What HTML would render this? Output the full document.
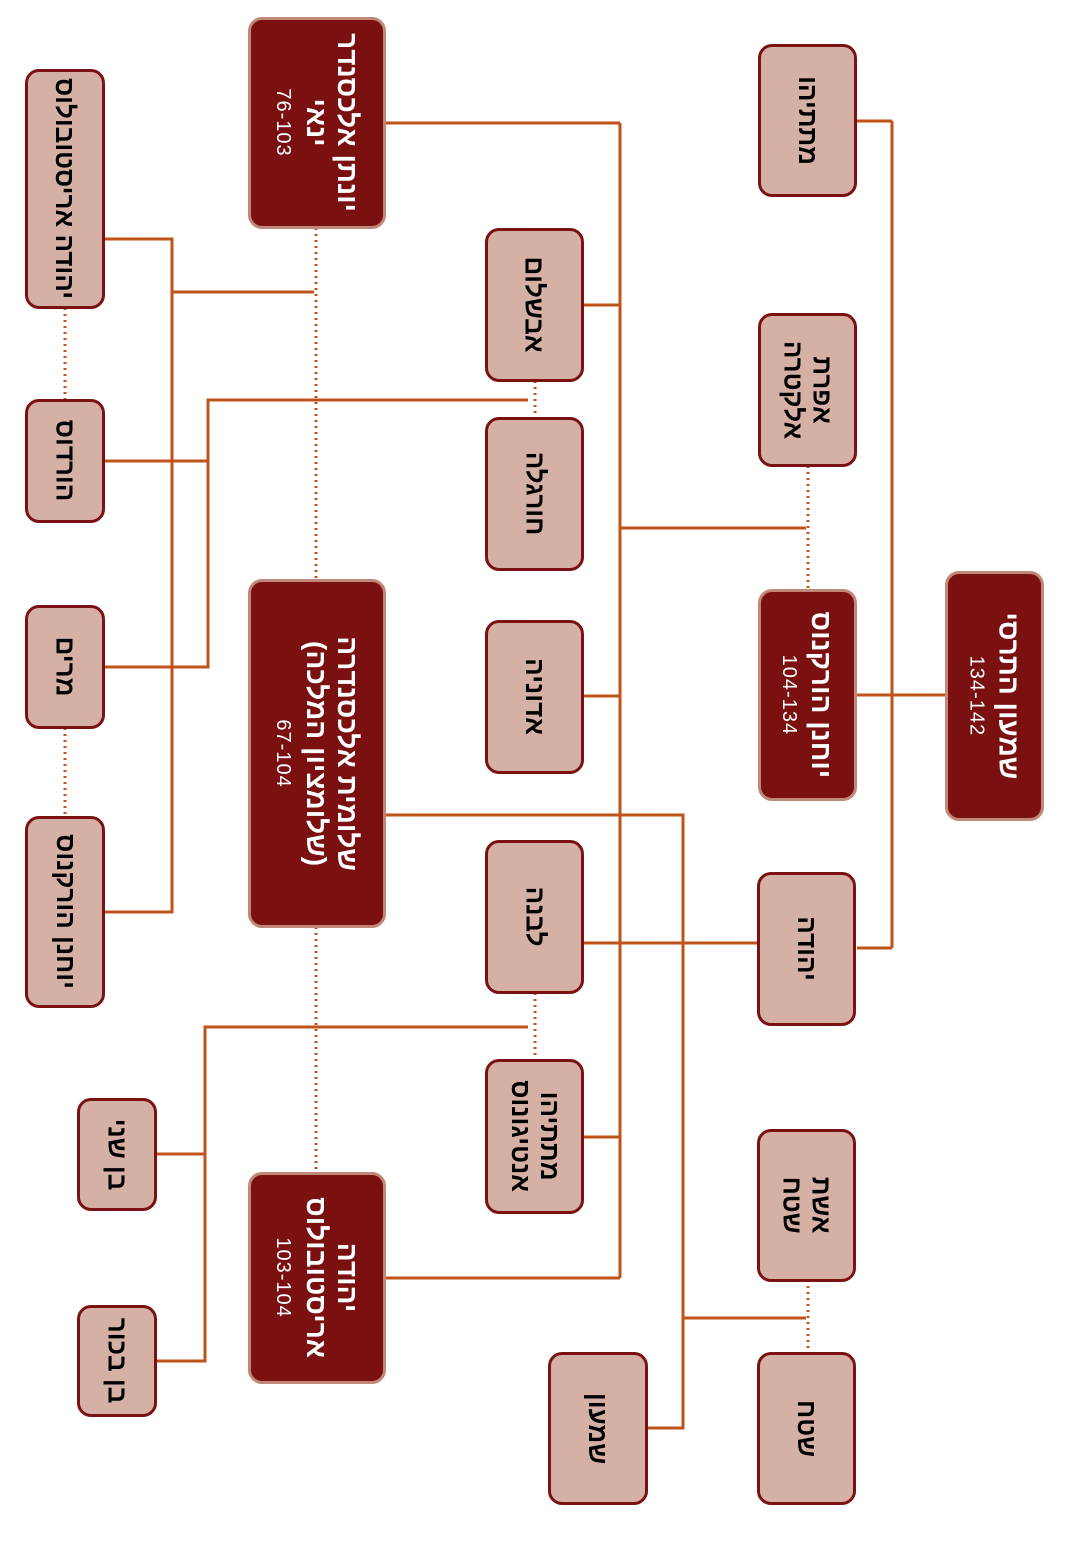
<!DOCTYPE html>
<html><head><meta charset="utf-8">
<style>
body{margin:0;background:#fff;width:1084px;height:1548px;position:relative;overflow:hidden;font-family:"Liberation Sans","Noto Sans CJK SC",sans-serif}
.b{position:absolute;display:flex;align-items:center;justify-content:center;box-sizing:border-box;border-radius:14px}
.l{background:#d5b0a5;border:3px solid #7a1212;color:#000;font-weight:bold;font-size:26px}
.d{background:#7a1010;border:3px solid #c08878;color:#fff;font-weight:bold;font-size:28px}
.t{transform:rotate(90deg);white-space:nowrap;text-align:center;direction:rtl;line-height:1.12}
.n{font-weight:normal;font-size:20px;direction:ltr;display:block;margin-top:6px;letter-spacing:1px}
svg{position:absolute;left:0;top:0}
</style></head><body>
<svg width="1084" height="1548">
<g stroke="#c0531a" stroke-width="3" fill="none">
<path d="M945 695H857M892 121V948M857 121H892M857 948H892"/>
<path d="M620 123V1278M385 123H620M583 305H620M583 696H620M583 1137H620M385 1278H620M620 528H806"/>
<path d="M385 815H683V1428H647M583 943H757M683 1318H806"/>
<path d="M528 400H208V667H104M104 461H208"/>
<path d="M104 239H172V912H104M172 292H314"/>
<path d="M528 1027H205V1361H156M156 1154H205"/>
</g>
<g stroke="#c0531a" stroke-width="3" fill="none" stroke-dasharray="2 4">
<path d="M808 466V590M535 381V418M316 228V580M316 927V1173M65 308V400M65 728V817M535 993V1060M808 1280V1353"/>
</g>
</svg>

<div class="b d" style="left:945px;top:571px;width:99px;height:250px"><div class="t">שמעון התרסי<span class="n">134-142</span></div></div>

<div class="b l" style="left:758px;top:44px;width:99px;height:153px"><div class="t">מתתיהו</div></div>
<div class="b l" style="left:758px;top:313px;width:99px;height:154px"><div class="t">אפרת<br>אלקטרה</div></div>
<div class="b d" style="left:758px;top:589px;width:99px;height:212px"><div class="t">יוחנן הורקנוס<span class="n">104-134</span></div></div>
<div class="b l" style="left:757px;top:872px;width:99px;height:154px"><div class="t">יהודה</div></div>
<div class="b l" style="left:757px;top:1129px;width:99px;height:153px"><div class="t">אשת<br>שטח</div></div>
<div class="b l" style="left:757px;top:1352px;width:99px;height:153px"><div class="t">שטח</div></div>

<div class="b l" style="left:485px;top:228px;width:99px;height:154px"><div class="t">אבשלום</div></div>
<div class="b l" style="left:485px;top:417px;width:99px;height:154px"><div class="t">חורגלה</div></div>
<div class="b l" style="left:485px;top:620px;width:99px;height:154px"><div class="t">אדוניה</div></div>
<div class="b l" style="left:485px;top:840px;width:99px;height:154px"><div class="t">לבנה</div></div>
<div class="b l" style="left:485px;top:1059px;width:99px;height:155px"><div class="t">מתתיהו<br>אנטיגונוס</div></div>
<div class="b l" style="left:548px;top:1352px;width:100px;height:153px"><div class="t">שמעון</div></div>

<div class="b d" style="left:248px;top:17px;width:138px;height:212px"><div class="t">יונתן אלכסנדר<br>ינאי<span class="n">76-103</span></div></div>
<div class="b d" style="left:248px;top:579px;width:138px;height:349px"><div class="t">שלומית אלכסנדרה<br>(שלומציון המלכה)<span class="n">67-104</span></div></div>
<div class="b d" style="left:248px;top:1172px;width:138px;height:212px"><div class="t">יהודה<br>אריסטובולוס<span class="n">103-104</span></div></div>

<div class="b l" style="left:25px;top:69px;width:80px;height:240px"><div class="t">יהודה אריסטובולוס</div></div>
<div class="b l" style="left:25px;top:399px;width:80px;height:124px"><div class="t">הורדוס</div></div>
<div class="b l" style="left:25px;top:605px;width:80px;height:124px"><div class="t">מרים</div></div>
<div class="b l" style="left:25px;top:816px;width:80px;height:192px"><div class="t">יוחנן הורקנוס</div></div>
<div class="b l" style="left:77px;top:1098px;width:80px;height:113px"><div class="t">בן שני</div></div>
<div class="b l" style="left:77px;top:1305px;width:80px;height:112px"><div class="t">בן בכור</div></div>
</body></html>
